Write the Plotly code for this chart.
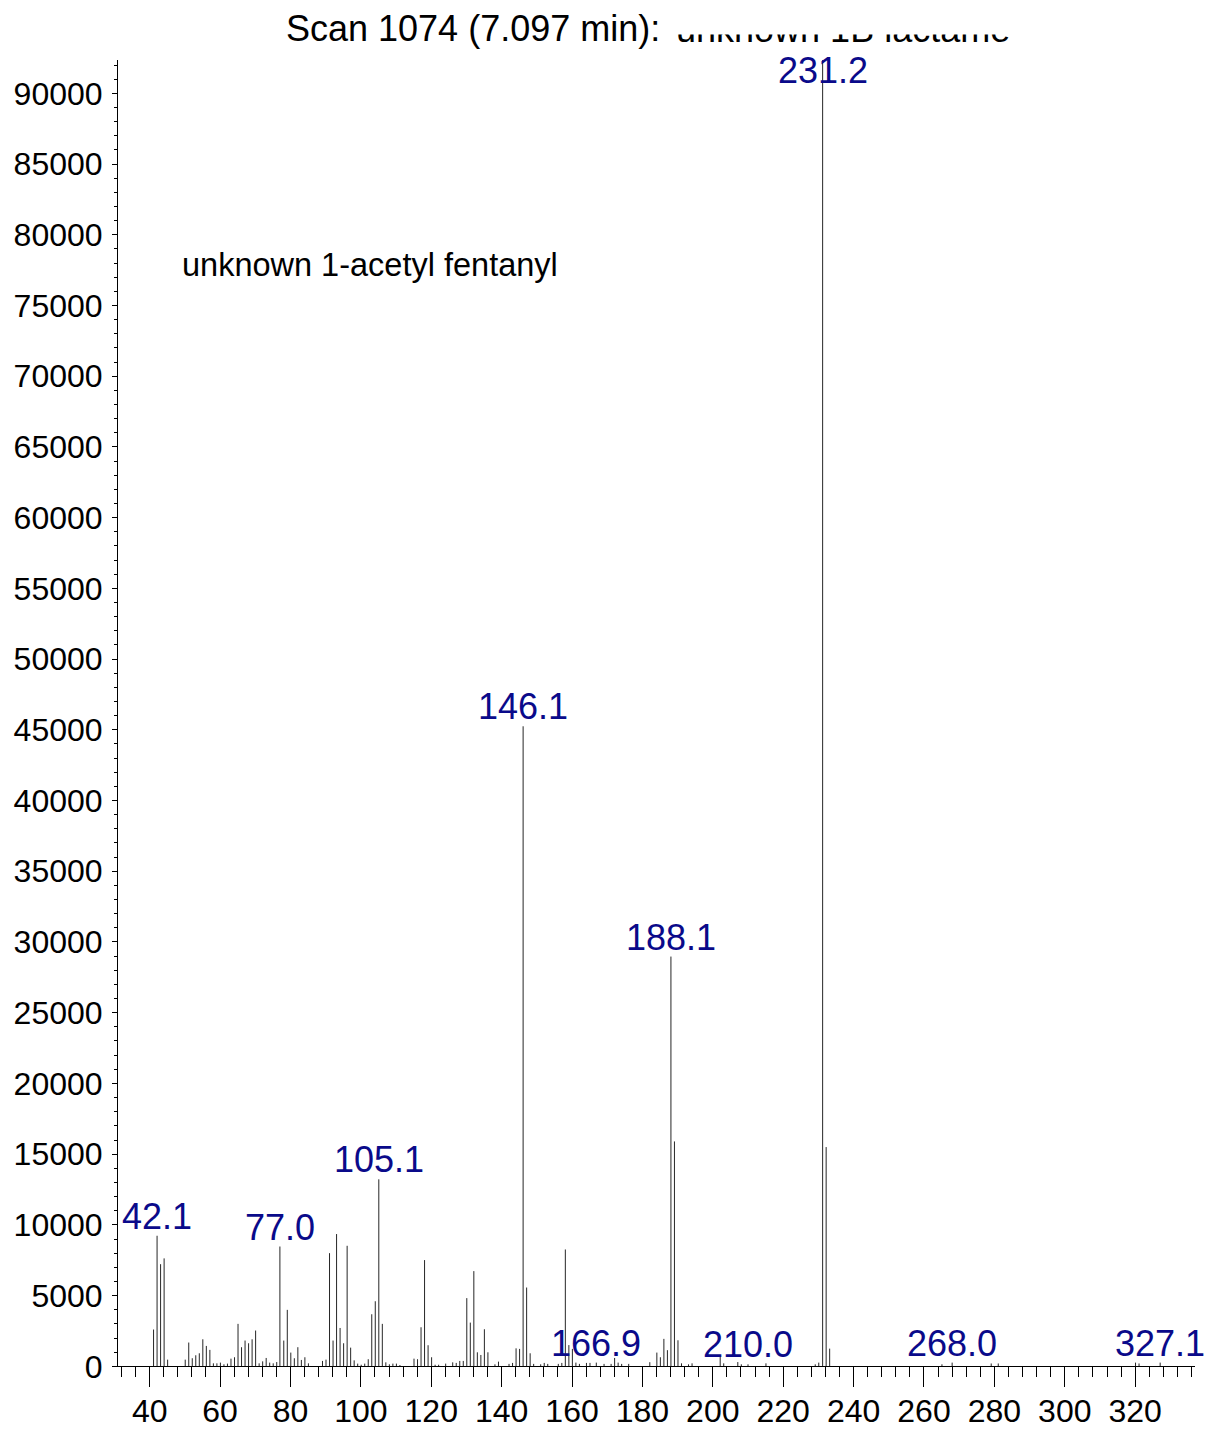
import plotly.graph_objects as go

# Mass spectrum, scan 1074 (7.097 min): m/z and abundance of each ion
mz = [41.1, 42.1, 43.1, 44.1, 45.1, 50.1, 51.1, 52.1, 53.1, 54.1, 55.1, 56.1, 57.1,
      58.1, 59.1, 60.1, 61.1, 62.1, 63.1, 64.1, 65.1, 66.1, 67.1, 68.1, 69.1, 70.1,
      71.1, 72.1, 73.1, 74.1, 75.1, 76.1, 77.0, 78.1, 79.1, 80.1, 81.1, 82.1, 83.1,
      84.1, 85.1, 89.1, 90.1, 91.1, 92.1, 93.1, 94.1, 95.1, 96.1, 97.1, 98.1, 99.1,
      100.1, 101.1, 102.1, 103.1, 104.1, 105.1, 106.1, 107.1, 108.1, 109.1, 110.1,
      111.1, 115.1, 116.1, 117.1, 118.1, 119.1, 120.1, 121.1, 122.1, 124.1, 126.1,
      127.1, 128.1, 129.1, 130.1, 131.1, 132.1, 133.1, 134.1, 135.1, 136.1, 138.1,
      139.1, 142.1, 143.1, 144.1, 145.1, 146.1, 147.1, 148.1, 149.1, 151.1, 152.1,
      153.1, 156.1, 157.1, 158.1, 159.1, 160.1, 161.1, 162.1, 164.1, 165.1, 166.9,
      169.1, 171.1, 172.1, 173.1, 174.1, 176.1, 182.1, 184.1, 185.1, 186.1, 187.1,
      188.1, 189.1, 190.1, 191.1, 193.1, 194.1, 202.1, 203.1, 207.1, 208.1, 210.0,
      215.1, 229.1, 230.1, 231.2, 232.2, 233.2, 265.1, 268.0, 279.1, 281.1, 320.1,
      321.1, 327.1]
abundance = [2600, 9230, 7220, 7630, 470, 470, 1680, 570, 780, 920, 1910, 1440, 1160,
             210, 210, 260, 140, 190, 540, 640, 3000, 1350, 1820, 1630, 1910, 2530,
             210, 350, 590, 260, 210, 300, 8470, 1820, 3990, 970, 570, 1350, 450,
             640, 210, 380, 470, 8000, 1820, 9350, 2710, 1630, 8520, 1320, 420, 190,
             110, 190, 500, 3680, 4600, 13220, 3000, 280, 140, 190, 190,
             90, 540, 500, 2760, 7510, 1490, 640, 110, 110, 190, 280,
             240, 380, 380, 4820, 3090, 6730, 990, 800, 2620, 990, 140,
             330, 170, 240, 1270, 1230, 45250, 5570, 920, 170, 140, 240,
             170, 170, 240, 8260, 1500, 1230, 260, 170, 240, 240, 260,
             170, 170, 590, 260, 170, 170, 290, 970, 640, 1940, 1140,
             28970, 15900, 1840, 210, 140, 210, 730, 210, 300, 140, 140,
             210, 140, 260, 93100, 15500, 1250, 140, 260, 200, 200, 260,
             200, 260]

# Ions whose m/z is printed above the stick
labelled = ["42.1", "77.0", "105.1", "146.1", "166.9", "188.1", "210.0", "231.2",
            "268.0", "327.1"]

x_ticks = list(range(40, 321, 20))
y_ticks = list(range(0, 90001, 5000))

title_text = "Scan 1074 (7.097 min):"
title_tail = "unknown 1B lactame"
compound_note = "unknown 1-acetyl fentanyl"

W, H = 1216, 1431
X0, X1 = 118, 1195          # plot area, px from left
Y0, Y1 = 49.5, 1366.3       # plot area, px from top
Y_MAX = 93100

TXT = "Liberation Sans, Arial, sans-serif"
NAVY = "#0a0a8a"

# stick spectrum: one vertical segment per ion
sx, sy = [], []
for m, a in zip(mz, abundance):
    sx += [m, m, None]
    sy += [0, a, None]

fig = go.Figure()
fig.add_trace(go.Scatter(x=sx, y=sy, mode="lines",
                         line=dict(color="#262626", width=1),
                         hoverinfo="skip", showlegend=False))

# tail of the title, clipped along its top edge
fig.add_trace(go.Scatter(x=[676], y=[32.5], mode="text", text=[title_tail],
                         textposition="middle right", cliponaxis=True,
                         textfont=dict(family=TXT, size=36, color="black"),
                         xaxis="x2", yaxis="y2", hoverinfo="skip", showlegend=False))

ann = []
lookup = dict(zip(mz, abundance))
for lab in labelled:
    m = float(lab)
    a = lookup[m]
    if a >= 0.95 * Y_MAX:
        ann.append(dict(x=m, y=Y_MAX, xref="x", yref="y", text=lab, showarrow=False,
                        xanchor="center", yanchor="top", yshift=1,
                        font=dict(family=TXT, size=36, color=NAVY)))
    else:
        ann.append(dict(x=m, y=a, xref="x", yref="y", text=lab, showarrow=False,
                        xanchor="center", yanchor="bottom", yshift=-3,
                        font=dict(family=TXT, size=36, color=NAVY)))

ann.append(dict(x=48.6, y=77860, xref="x", yref="y", text=compound_note,
                showarrow=False, xanchor="left", yanchor="middle",
                font=dict(family=TXT, size=32.5, color="black")))
ann.append(dict(x=284 / W, y=1 - 28 / H, xref="paper", yref="paper", text=title_text,
                showarrow=False, xanchor="left", yanchor="middle",
                font=dict(family=TXT, size=36, color="black")))

fig.update_layout(
    template="none",
    width=W, height=H,
    margin=dict(l=0, r=0, t=0, b=0, autoexpand=False),
    paper_bgcolor="white", plot_bgcolor="white",
    showlegend=False,
    annotations=ann,
    xaxis=dict(
        domain=[X0 / W, X1 / W], range=[31, 337], automargin=False,
        tickmode="array", tickvals=x_ticks, ticktext=[str(v) for v in x_ticks],
        ticks="outside", ticklen=20, tickwidth=1, tickcolor="black",
        minor=dict(ticks="outside", ticklen=10, tickwidth=1, tickcolor="black",
                   tick0=0, dtick=4),
        showline=True, linecolor="black", linewidth=1,
        showgrid=False, zeroline=False,
        tickfont=dict(family=TXT, size=32, color="black"),
        ticklabelstandoff=-4,
        fixedrange=True,
    ),
    yaxis=dict(
        domain=[1 - Y1 / H, 1 - Y0 / H], range=[0, Y_MAX], automargin=False,
        tickmode="array", tickvals=y_ticks, ticktext=[str(v) for v in y_ticks],
        ticks="outside", ticklen=5, tickwidth=1, tickcolor="black",
        minor=dict(ticks="outside", ticklen=3, tickwidth=1, tickcolor="black",
                   tick0=0, dtick=1000),
        showline=True, linecolor="black", linewidth=1,
        showgrid=False, zeroline=False,
        tickfont=dict(family=TXT, size=32, color="black"),
        ticklabelstandoff=3,
        fixedrange=True,
    ),
    xaxis2=dict(domain=[0, 1], range=[0, W], visible=False, anchor="y2",
                automargin=False, fixedrange=True),
    yaxis2=dict(domain=[1 - 60 / H, 1 - 34.5 / H], range=[60, 34.5], visible=False,
                anchor="x2", automargin=False, fixedrange=True),
)

fig.write_html("out.html")
